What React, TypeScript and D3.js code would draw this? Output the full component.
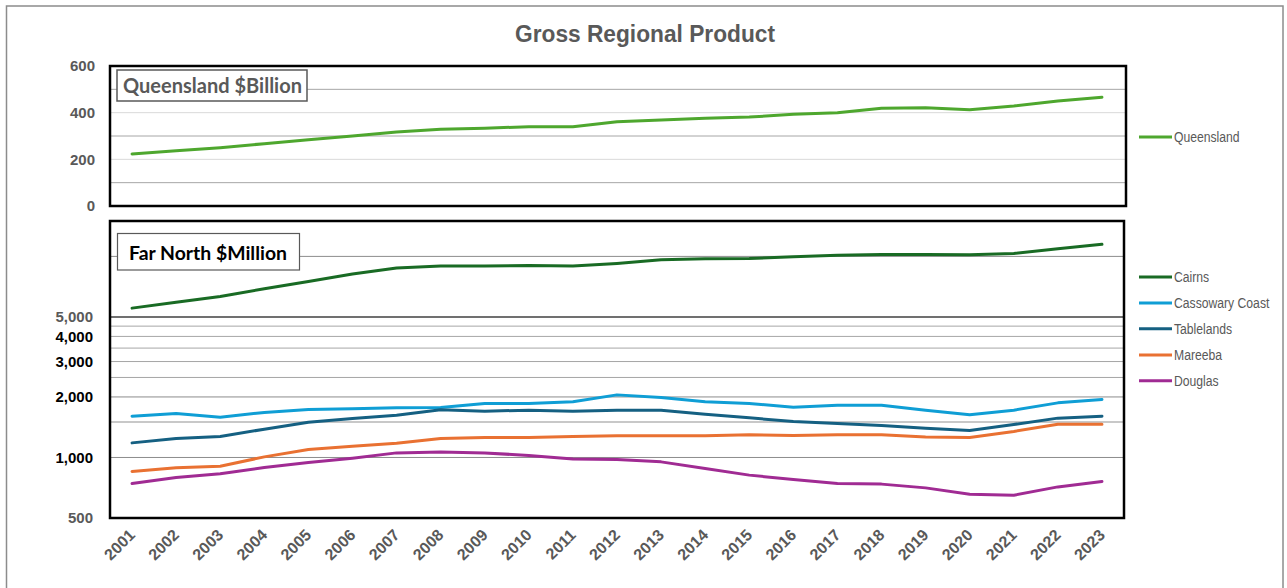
import React from "react";
import * as d3 from "d3";

const years = ["2001","2002","2003","2004","2005","2006","2007","2008","2009","2010","2011","2012","2013","2014","2015","2016","2017","2018","2019","2020","2021","2022","2023"];

// Queensland GRP, $ billion
const queensland = [223,237,250,267,284,300,317,329,333,340,340,361,369,376,381,393,400,419,421,413,429,450,466];

// Far North regions GRP, $ million
const cairns = [5530,5920,6320,6900,7510,8170,8750,8950,8950,9020,8950,9230,9620,9730,9770,9950,10120,10230,10230,10190,10350,10910,11480];
const cassowaryCoast = [1605,1655,1587,1675,1733,1745,1765,1773,1857,1857,1891,2048,1988,1891,1857,1779,1820,1820,1719,1629,1719,1869,1944];
const tablelands = [1182,1243,1272,1383,1498,1563,1623,1725,1699,1719,1699,1719,1719,1642,1574,1510,1476,1443,1399,1362,1459,1569,1605];
const mareeba = [852,888,905,1007,1096,1138,1178,1243,1257,1257,1272,1281,1281,1281,1296,1287,1296,1296,1266,1257,1347,1464,1464];
const douglas = [742,795,829,892,944,992,1054,1066,1054,1023,984,977,951,882,817,777,742,737,706,657,649,714,760];

const topTicks = [0, 200, 400, 600];
const topGrid = [100, 200, 300, 400, 500];
const lowerTicks = [500, 1000, 2000, 3000, 4000, 5000];
const lowerGrid = [1000, 1500, 2000, 2500, 3000, 3500, 4000, 4500, 5000, 10000];

const W = 1287;
const H = 588;

const x0 = 110;
const x1 = 1124;
const topY0 = 66, topY1 = 206;
const lowY0 = 221, lowY1 = 518;

const GRAY = "#595959";
const AXIS_FONT = "'Liberation Sans', Arial, sans-serif";
const NARROW = "'Liberation Sans Narrow', 'Arial Narrow', 'Liberation Sans', Arial, sans-serif";

const lowerSeries = [
  { name: "Cairns", values: cairns, color: "#196B24", ly: 277 },
  { name: "Cassowary Coast", values: cassowaryCoast, color: "#0F9ED5", ly: 303 },
  { name: "Tablelands", values: tablelands, color: "#156082", ly: 328.7 },
  { name: "Mareeba", values: mareeba, color: "#E97132", ly: 355 },
  { name: "Douglas", values: douglas, color: "#A02B93", ly: 380.7 },
];

// condensed legend label
function LegendLabel({ y, text }: { y: number; text: string }) {
  return (
    <text transform={`translate(1174,${y}) scale(0.87,1)`} dy="0.35em" fontFamily={NARROW} fontSize={14} fill={GRAY}>
      {text}
    </text>
  );
}

export default function App() {
  const x = d3.scalePoint<string>().domain(years).range([x0, x1]).padding(0.5);
  const yTop = d3.scaleLinear().domain([0, 600]).range([topY1, topY0]);
  const yLow = d3.scaleLog().domain([500, 15000]).range([lowY1, lowY0]);

  const lineTop = d3.line<number>().x((_, i) => x(years[i])!).y((d) => yTop(d));
  const lineLow = d3.line<number>().x((_, i) => x(years[i])!).y((d) => yLow(d));

  const gridColor = (v: number) => {
    if (v === 5000) return "#404040";
    if (v === 1500) return "#c8c8c8";
    if (v === 1000 || v === 2000 || v === 10000) return "#8c8c8c";
    return "#a6a6a6";
  };

  return (
    <svg width={W} height={H} style={{ position: "absolute", left: 0, top: 0, background: "#fff" }}>
      {/* outer chart frame */}
      <rect x={6.5} y={6} width={1276.5} height={600} fill="#fff" stroke="#8c8c8c" strokeWidth={1.5} />

      <text x={645} y={42} textAnchor="middle" fontFamily={NARROW} fontWeight="bold" fontSize={23} fill={GRAY} textLength={260} lengthAdjust="spacingAndGlyphs">
        Gross Regional Product
      </text>

      {/* top panel: Queensland */}
      {topGrid.map((v) => (
        <line key={"tg" + v} x1={x0} x2={1126} y1={yTop(v)} y2={yTop(v)} stroke={v % 200 === 0 ? "#d9d9d9" : "#a6a6a6"} strokeWidth={1} />
      ))}
      {topTicks.map((v) => (
        <text key={"tt" + v} x={95} y={yTop(v)} dy="0.35em" textAnchor="end" fontFamily={AXIS_FONT} fontWeight="bold" fontSize={15} fill={GRAY}>
          {v}
        </text>
      ))}
      <path d={lineTop(queensland)!} fill="none" stroke="#4EA72E" strokeWidth={3} strokeLinejoin="round" strokeLinecap="round" />
      <rect x={x0} y={topY0} width={1126 - x0} height={topY1 - topY0} fill="none" stroke="#000" strokeWidth={2.5} />
      <rect x={117} y={70} width={190} height={31} fill="#fff" stroke={GRAY} strokeWidth={1.5} />
      <text x={123} y={92.5} fontFamily="Lato, 'Open Sans', sans-serif" fontWeight="bold" fontSize={20} fill={GRAY} textLength={179} lengthAdjust="spacingAndGlyphs">
        Queensland $Billion
      </text>

      {/* lower panel: Far North regions (log scale) */}
      {lowerGrid.map((v) => (
        <line key={"lg" + v} x1={x0} x2={x1} y1={yLow(v)} y2={yLow(v)} stroke={gridColor(v)} strokeWidth={v === 1500 ? 2 : v === 5000 ? 1.5 : 1} />
      ))}
      {lowerTicks.map((v) => (
        <text key={"lt" + v} x={93} y={yLow(v)} dy="0.35em" textAnchor="end" fontFamily={AXIS_FONT} fontWeight="bold" fontSize={15} fill={v === 500 || v === 5000 ? GRAY : "#000"}>
          {d3.format(",")(v)}
        </text>
      ))}
      {lowerSeries.map((s) => (
        <path key={s.name} d={lineLow(s.values)!} fill="none" stroke={s.color} strokeWidth={3} strokeLinejoin="round" strokeLinecap="round" />
      ))}
      <rect x={x0} y={lowY0} width={x1 - x0} height={lowY1 - lowY0} fill="none" stroke="#000" strokeWidth={2.5} />
      <rect x={117.5} y={233.5} width={182} height={36.5} fill="#fff" stroke={GRAY} strokeWidth={1.2} />
      <text x={129} y={259.5} fontFamily="Lato, 'Open Sans', sans-serif" fontWeight="bold" fontSize={19.5} fill="#000" textLength={158} lengthAdjust="spacingAndGlyphs">
        Far North $Million
      </text>

      {/* x axis labels */}
      {years.map((yr) => (
        <text key={yr} transform={`translate(${x(yr)! + 4},${536}) rotate(-45)`} textAnchor="end" fontFamily={AXIS_FONT} fontWeight="bold" fontSize={16} fill={GRAY}>
          {yr}
        </text>
      ))}

      {/* legend */}
      <line x1={1139} x2={1172} y1={137} y2={137} stroke="#4EA72E" strokeWidth={3} />
      <LegendLabel y={137} text="Queensland" />
      {lowerSeries.map((s) => (
        <g key={"lg-" + s.name}>
          <line x1={1139} x2={1172} y1={s.ly} y2={s.ly} stroke={s.color} strokeWidth={3} />
          <LegendLabel y={s.ly} text={s.name} />
        </g>
      ))}
    </svg>
  );
}
